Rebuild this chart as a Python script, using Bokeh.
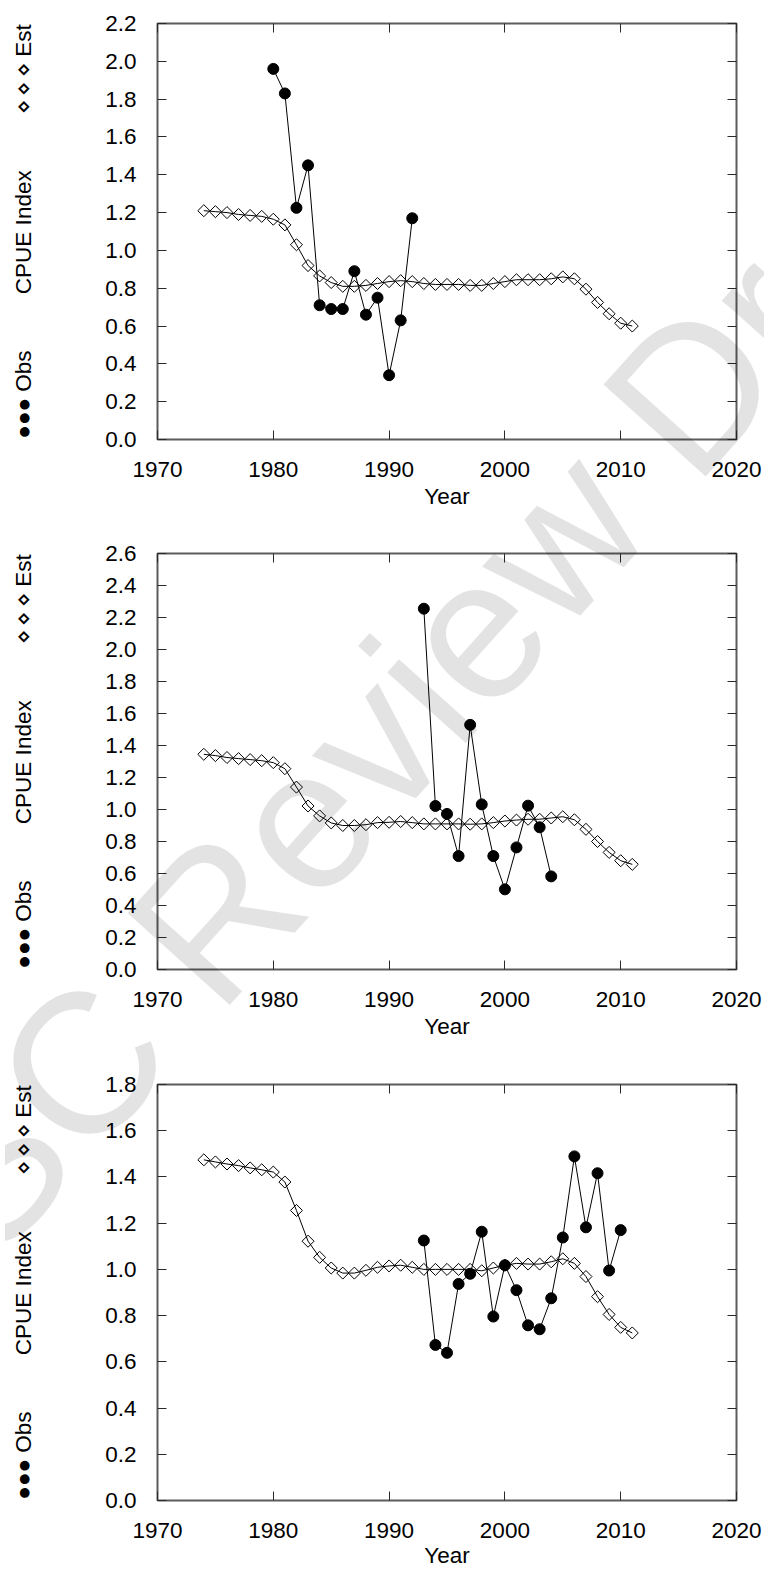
import numpy as np
from bokeh.plotting import figure
from bokeh.models import Range1d, FixedTicker, LinearAxis, PrintfTickFormatter, Div
from bokeh.layouts import column
from bokeh.embed import file_html
from bokeh.resources import INLINE

# ---------------- data ----------------
est_years = list(range(1974, 2012))

est1 = [1.21, 1.205, 1.20, 1.19, 1.185, 1.18, 1.165, 1.135, 1.03, 0.92,
        0.865, 0.83, 0.81, 0.81, 0.815, 0.825, 0.835, 0.84, 0.835, 0.825,
        0.82, 0.82, 0.82, 0.815, 0.815, 0.825, 0.835, 0.845, 0.845, 0.845,
        0.85, 0.86, 0.85, 0.795, 0.725, 0.665, 0.615, 0.60]
obs1_years = list(range(1980, 1993))
obs1 = [1.96, 1.83, 1.225, 1.45, 0.71, 0.69, 0.69, 0.89, 0.66, 0.75,
        0.34, 0.63, 1.17]

est2 = [1.345, 1.337, 1.325, 1.318, 1.312, 1.305, 1.293, 1.255, 1.14, 1.022,
        0.96, 0.916, 0.90, 0.90, 0.905, 0.918, 0.92, 0.925, 0.918, 0.91,
        0.91, 0.91, 0.91, 0.908, 0.91, 0.918, 0.928, 0.934, 0.939, 0.939,
        0.947, 0.955, 0.936, 0.876, 0.80, 0.732, 0.68, 0.657]
obs2_years = list(range(1993, 2005))
obs2 = [2.255, 1.022, 0.972, 0.709, 1.529, 1.032, 0.709, 0.501, 0.763,
        1.024, 0.889, 0.582]

est3 = [1.474, 1.465, 1.456, 1.449, 1.439, 1.431, 1.421, 1.378, 1.255, 1.122,
        1.052, 1.006, 0.984, 0.984, 0.996, 1.009, 1.015, 1.018, 1.009, 1.00,
        1.00, 1.00, 1.00, 1.00, 0.994, 1.006, 1.018, 1.026, 1.023, 1.023,
        1.033, 1.046, 1.026, 0.969, 0.882, 0.805, 0.749, 0.725]
obs3_years = list(range(1993, 2011))
obs3 = [1.125, 0.673, 0.639, 0.937, 0.981, 1.163, 0.796, 1.018, 0.910,
        0.758, 0.741, 0.875, 1.138, 1.489, 1.182, 1.416, 0.995, 1.170]

x_ticks = [1970, 1980, 1990, 2000, 2010, 2020]
y_ticks1 = [0.0, 0.2, 0.4, 0.6, 0.8, 1.0, 1.2, 1.4, 1.6, 1.8, 2.0, 2.2]
y_ticks2 = [0.0, 0.2, 0.4, 0.6, 0.8, 1.0, 1.2, 1.4, 1.6, 1.8, 2.0, 2.2, 2.4, 2.6]
y_ticks3 = [0.0, 0.2, 0.4, 0.6, 0.8, 1.0, 1.2, 1.4, 1.6, 1.8]

x_title = "Year"
# rotated left-side legend / title (reads bottom to top)
y_title = ("\u25cf\u25cf\u25cf Obs" + "\u2003\u2003\u2002" + "CPUE Index"
           + "\u2003\u2003\u2002" + "\u22c4\u2009\u22c4\u2009\u22c4 Est")
watermark = "SC Review Draft"

# ---------------- style ----------------
FONT = "Liberation Sans"
FS = "22.5px"
W = 764
BL, BR = 157, 28


def style_axis(ax, ticks, show_labels):
    ax.ticker = FixedTicker(ticks=ticks)
    ax.major_tick_in = 9
    ax.major_tick_out = 0
    ax.minor_tick_line_color = None
    ax.axis_line_color = None
    ax.major_tick_line_color = "#2a2a2a"
    ax.major_tick_line_width = 1
    ax.major_label_text_font = FONT
    ax.major_label_text_font_size = FS
    ax.major_label_text_color = "black" if show_labels else None
    if not show_labels:
        ax.major_label_standoff = 0


def panel(est, oy, obs, yticks, height, btop, bbottom, year_standoff):
    p = figure(width=W, height=height,
               x_range=Range1d(1970, 2020), y_range=Range1d(yticks[0], yticks[-1]),
               x_axis_type=None, y_axis_type=None,
               output_backend="svg", toolbar_location=None,
               min_border_left=BL, min_border_right=BR,
               min_border_top=btop, min_border_bottom=bbottom)
    p.outline_line_color = "#5c5c5c"
    p.outline_line_width = 2
    p.background_fill_color = "white"
    p.border_fill_color = "white"

    xb = LinearAxis(axis_label=x_title)
    style_axis(xb, x_ticks, True)
    xb.major_label_standoff = 22
    xb.axis_label_standoff = year_standoff
    xb.axis_label_text_font = FONT
    xb.axis_label_text_font_size = FS
    xb.axis_label_text_font_style = "normal"
    xb.axis_label_text_color = "black"
    p.add_layout(xb, "below")

    xt = LinearAxis()
    style_axis(xt, x_ticks, False)
    p.add_layout(xt, "above")

    yl = LinearAxis(axis_label=y_title)
    style_axis(yl, yticks, True)
    yl.major_label_standoff = 21
    yl.formatter = PrintfTickFormatter(format="%.1f")
    yl.axis_label_standoff = 66
    yl.axis_label_text_font = FONT
    yl.axis_label_text_font_size = FS
    yl.axis_label_text_font_style = "normal"
    yl.axis_label_text_color = "black"
    p.add_layout(yl, "left")

    yr = LinearAxis()
    style_axis(yr, yticks, False)
    p.add_layout(yr, "right")

    p.line(est_years, est, line_color="black", line_width=1)
    p.scatter(est_years, est, marker="square", angle=np.pi / 4, size=8.5,
              fill_color=None, line_color="black", line_width=1)
    p.line(oy, obs, line_color="black", line_width=1)
    p.scatter(oy, obs, marker="circle", size=11, fill_color="black",
              line_color="black")
    return p


p1 = panel(est1, obs1_years, obs1, y_ticks1, 530, 23, 91, 4)
p2 = panel(est2, obs2_years, obs2, y_ticks2, 530, 23, 91, 4)
p3 = panel(est3, obs3_years, obs3, y_ticks3, 516, 24, 76, 2)

# light watermark laid over the page (semi-transparent so black marks stay black)
wm_html = (
    '<div style="position:absolute;left:0px;top:0px;width:764px;height:1576px;'
    'overflow:hidden;pointer-events:none;">'
    '<div style="position:absolute;left:-135px;top:1147px;transform-origin:0 0;'
    'transform:rotate(-48deg);font-family:\'Liberation Sans\',Arial,sans-serif;'
    'font-size:200px;line-height:1;white-space:nowrap;color:rgba(0,0,0,0.11);">'
    + watermark + '</div></div>'
)
wm = Div(text=wm_html, width=764, height=0,
         styles={"position": "absolute", "top": "0px", "left": "0px",
                 "z-index": "10", "pointer-events": "none", "overflow": "visible"})

layout = column(p1, p2, p3, wm, spacing=0)
open("out.html", "w").write(file_html(layout, INLINE))
